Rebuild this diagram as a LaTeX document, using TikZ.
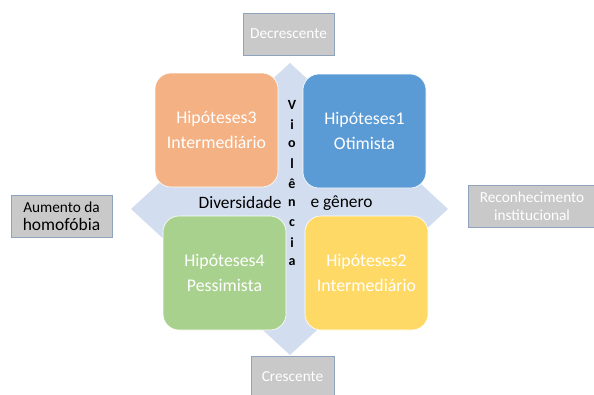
\documentclass[tikz,border=0pt]{standalone}
\usepackage{fontspec}
\setmainfont{Carlito}
\definecolor{losango}{HTML}{D2DEEF}
\definecolor{laranja}{HTML}{F4B183}
\definecolor{azul}{HTML}{5B9BD5}
\definecolor{verde}{HTML}{A9D18E}
\definecolor{amarelo}{HTML}{FFD966}
\definecolor{cinza}{HTML}{C9C9C9}
\definecolor{cinzaborda}{HTML}{8FA3BF}
\tikzset{
	hipbox/.style={rounded corners=16pt, draw=white, line width=0.6pt, minimum width=123pt, minimum height=114pt, align=center, text=white, font=\fontsize{17.8}{25}\selectfont},
	eixobox/.style={fill=cinza, draw=cinzaborda, line width=0.8pt, align=center, inner sep=0pt, font=\fontsize{15.3}{18}\selectfont}
}
\begin{document}
\begin{tikzpicture}[x=1pt,y=-1pt]
		\useasboundingbox (0,0) rectangle (594,394);
		
		%Losango do fundo
		\fill[losango] (290,63) -- (448,209) -- (290,355) -- (131,209) -- cycle;
		
		%Hipoteses
		\node[hipbox, fill=laranja] (H3) at (216.5,130) {Hipóteses3\\Intermediário};
		\node[hipbox, fill=azul] (H1) at (364.5,131) {Hipóteses1\\Otimista};
		\node[hipbox, fill=verde] (H4) at (224.5,273) {Hipóteses4\\Pessimista};
		\node[hipbox, fill=amarelo] (H2) at (366.5,273) {Hipóteses2\\Intermediário};
		
		%Eixo horizontal
		\node[font=\fontsize{17.4}{20}\selectfont, anchor=east] (div) at (285,203) {Diversidade};
		\node[font=\fontsize{17.4}{20}\selectfont, anchor=west] (gen) at (307,203) {e gênero};
		
		%Eixo vertical
		\foreach \l [count=\i] in {V,i,o,l,ê,n,c,i,a}
			\node[font=\fontsize{14}{14}\selectfont\bfseries] (v\i) at (292,105+19.6*\i-19.6) {\l};
		
		%Caixas cinzas
		\node[eixobox, text=white, minimum width=91pt, minimum height=42pt] (dec) at (288.5,34) {Decrescente};
		\node[eixobox, text=white, minimum width=83pt, minimum height=42pt] (cre) at (292.5,377) {Crescente};
		\node[eixobox, minimum width=101pt, minimum height=42pt] (aum) at (61.5,216) {Aumento da\\{\fontsize{17.5}{20}\selectfont homofóbia}};
		\node[eixobox, text=white, minimum width=128pt, minimum height=42pt] (rec) at (532,206) {Reconhecimento\\institucional};
	\end{tikzpicture}
\end{document}
